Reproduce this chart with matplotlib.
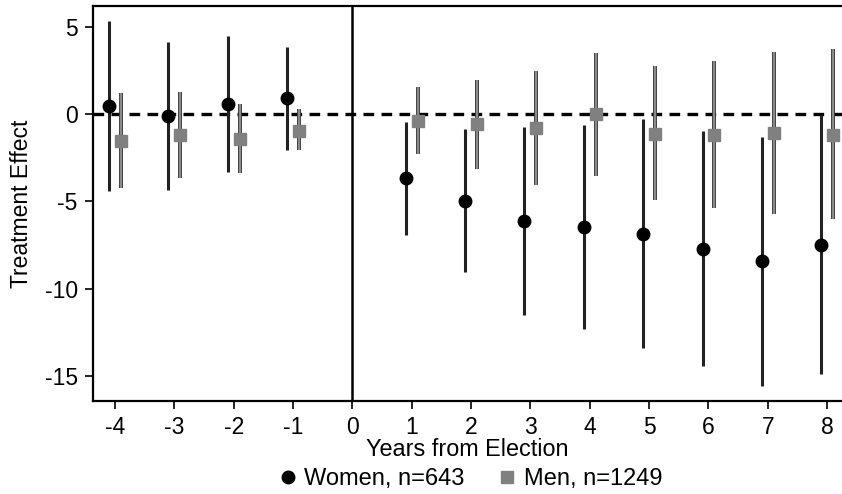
import matplotlib.pyplot as plt
from matplotlib.lines import Line2D

plt.rcParams['font.family'] = ['Liberation Sans', 'DejaVu Sans']
plt.rcParams['axes.unicode_minus'] = False

years = [-4, -3, -2, -1, 1, 2, 3, 4, 5, 6, 7, 8]

women_est = [0.48, -0.11, 0.59, 0.90, -3.69, -4.97, -6.10, -6.46, -6.85, -7.71, -8.45, -7.48]
women_hi = [5.34, 4.13, 4.49, 3.83, -0.44, -0.88, -0.76, -0.65, -0.29, -0.96, -1.30, -0.07]
women_lo = [-4.40, -4.34, -3.31, -2.08, -6.94, -9.08, -11.49, -12.30, -13.39, -14.44, -15.60, -14.88]

men_est = [-1.55, -1.22, -1.40, -0.94, -0.40, -0.59, -0.82, -0.02, -1.13, -1.17, -1.07, -1.17]
men_hi = [1.19, 1.24, 0.59, 0.27, 1.53, 1.93, 2.50, 3.48, 2.74, 3.02, 3.54, 3.71]
men_lo = [-4.23, -3.65, -3.39, -2.08, -2.30, -3.12, -4.07, -3.54, -4.90, -5.37, -5.70, -6.04]

x_ticks = list(range(-4, 9))
y_ticks = [5, 0, -5, -10, -15]

fig = plt.figure(figsize=(8.42, 4.94), dpi=100)
ax = fig.add_axes([93 / 842, 1 - 401 / 494, 1 - 93 / 842, 395 / 494])

ax.axhline(0, color='black', lw=2.4, ls=(0, (3.2, 2.2)), zorder=1)
ax.axvline(0, color='black', lw=1.8, zorder=1)

# women slightly left of each year, men slightly right
off = 0.1
for x, est, lo, hi in zip(years, women_est, women_lo, women_hi):
    ax.plot([x - off, x - off], [lo, hi], color='#222222', lw=2.2, solid_capstyle='butt', zorder=2)
    ax.plot(x - off, est, 'o', color='black', ms=9, zorder=4)

for x, est, lo, hi in zip(years, men_est, men_lo, men_hi):
    ax.plot([x + off, x + off], [lo, hi], color='#333333', lw=2.8, solid_capstyle='butt', zorder=2)
    ax.plot([x + off, x + off], [lo, hi], color='#8a8a8a', lw=1.6, solid_capstyle='butt', zorder=3)
    ax.plot(x + off, est, 's', color='#808080', ms=9, zorder=4)

ax.set_xlim(-4.37, 8.25)
ax.set_ylim(-16.45, 6.2)
ax.set_xticks(x_ticks)
ax.set_yticks(y_ticks)
ax.tick_params(labelsize=16.5, width=1.2, length=6, direction='out', pad=5)
for side in ['left', 'bottom', 'top']:
    ax.spines[side].set_linewidth(1.6)
ax.spines['right'].set_visible(False)

ax.set_ylabel('Treatment Effect', fontsize=16.5, labelpad=8)
ax.set_xlabel('Years from Election', fontsize=16.8, labelpad=-1)

handles = [
    Line2D([], [], marker='o', color='black', ls='none', ms=9, label='Women, n=643'),
    Line2D([], [], marker='s', color='#808080', ls='none', ms=9, label='Men, n=1249'),
]
fig.legend(handles=handles, loc='center', bbox_to_anchor=(468 / 842, 1 - 479 / 494), ncol=2,
           frameon=False, fontsize=17, handletextpad=0.1, columnspacing=1.2, handlelength=1.2,
           borderpad=0)

fig.savefig('out.png', dpi=100)
